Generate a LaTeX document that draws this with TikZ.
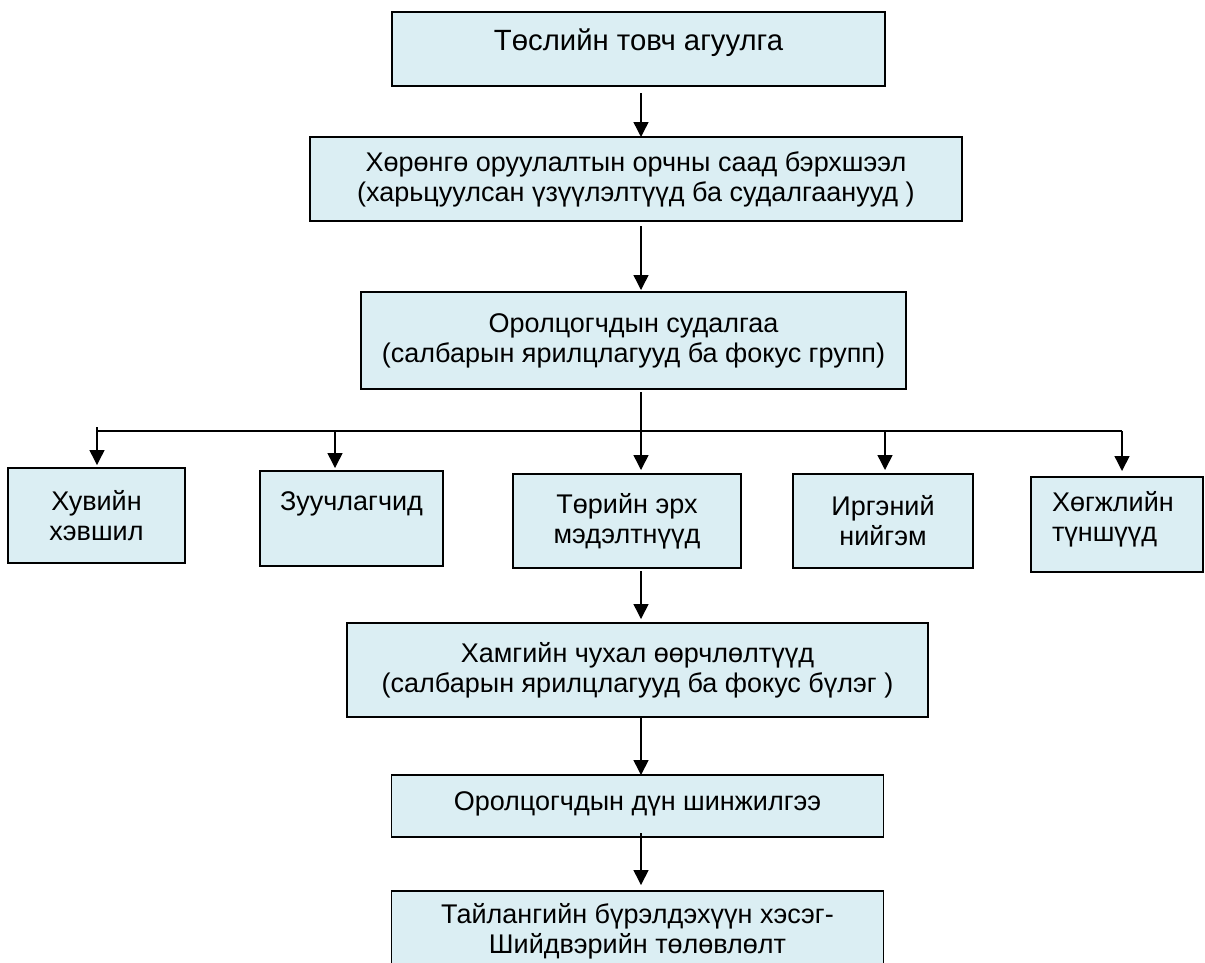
\documentclass[tikz,border=0pt]{standalone}
\usepackage{fontspec}
\setmainfont{Liberation Sans}
\usepackage{tikz}
\usetikzlibrary{positioning,arrows.meta}

\definecolor{boxfill}{RGB}{219,238,243}
\tikzset{
  box/.style={draw, line width=0.9bp, fill=boxfill, inner sep=0pt, outer sep=0pt, align=center,
    font=\fontsize{13.5bp}{15bp}\selectfont},
  link/.style={-{Triangle[width=7.5bp,length=7.5bp]}, line width=0.7bp},
  bar/.style={line width=0.7bp}
}

\begin{document}
\begin{tikzpicture}[x=0.5bp, y=-0.5bp]
    \clip (0,0) rectangle (1205,962);

    % Define nodes
    \node[box, minimum width=246.5bp, text height=19bp, text depth=18bp,
        font=\fontsize{14.65bp}{16bp}\selectfont]
        (b1) at (638.5,49) {Төслийн товч агуулга};
    \node[box, below = 25.5bp of b1, minimum width=326bp, minimum height=42bp, xshift=-1.25bp]
        (b2) {Хөрөнгө оруулалтын орчны саад бэрхшээл\\(харьцуулсан үзүүлэлтүүд ба судалгаанууд )};
    \node[box, below = 35.5bp of b2, minimum width=272.5bp, minimum height=48.5bp, xshift=-1.25bp]
        (b3) {Оролцогчдын судалгаа\\(салбарын ярилцлагууд ба фокус групп)};

    \node[box, below = 42.5bp of b3, minimum width=114bp, minimum height=47bp, xshift=-3.25bp]
        (s3) {Төрийн эрх\\мэдэлтнүүд};
    \node[box, left = 35bp of s3, minimum width=91.5bp, text height=19.5bp, text depth=28bp, yshift=1.25bp]
        (s2) {Зуучлагчид};
    \node[box, left = 37.5bp of s2, minimum width=88.5bp, minimum height=47.5bp, yshift=1.5bp]
        (s1) {Хувийн\\хэвшил};
    \node[box, right = 26bp of s3, minimum width=90bp, minimum height=47bp]
        (s4) {Иргэний\\нийгэм};
    \node[box, right = 29bp of s4, text width=65bp, inner xsep=10.5bp, text height=17bp, text depth=30.5bp,
        align=left, yshift=-1.75bp]
        (s5) {Хөгжлийн\\түншүүд};

    \node[box, below = 27.5bp of s3, minimum width=290.5bp, minimum height=47bp, xshift=5.25bp]
        (b4) {Хамгийн чухал өөрчлөлтүүд\\(салбарын ярилцлагууд ба фокус бүлэг )};
    \node[box, below = 29bp of b4, minimum width=246bp, text height=17.5bp, text depth=13.5bp]
        (b5) {Оролцогчдын дүн шинжилгээ};
    \node[box, below = 27bp of b5, minimum width=246bp, text height=31bp, text depth=13bp]
        (b6) {Тайлангийн бүрэлдэхүүн хэсэг-\\Шийдвэрийн төлөвлөлт};

    % Bus points
    \coordinate (bus) at (641,431);
    \coordinate (d1) at (97,427);
    \coordinate (d2) at (335,431);
    \coordinate (d4) at (885,431);
    \coordinate (d5) at (1122,431);

    % Connect nodes
    \draw[link, shorten <=3.5bp] (b1.south -| bus) -- (b2.north -| bus);
    \draw[link, shorten <=2.5bp, shorten >=1bp] (b2.south -| bus) -- (b3.north -| bus);
    \draw[link, shorten <=1.5bp, shorten >=2bp] (b3.south -| bus) -- (s3.north -| bus);
    \draw[bar] (d1 |- bus) -- (d5);
    \draw[link, shorten >=1.5bp] (d1) -- (d1 |- s1.north);
    \draw[link, shorten >=1.5bp] (d2) -- (d2 |- s2.north);
    \draw[link, shorten >=2bp] (d4) -- (d4 |- s4.north);
    \draw[link, shorten >=3bp] (d5) -- (d5 |- s5.north);
    \draw[link, shorten <=1.5bp, shorten >=2bp] (s3.south -| bus) -- (b4.north -| bus);
    \draw[link] (b4.south -| bus) -- (b5.north -| bus);
    \draw[link, shorten <=-2bp, shorten >=3bp] (b5.south -| bus) -- (b6.north -| bus);
\end{tikzpicture}
\end{document}
